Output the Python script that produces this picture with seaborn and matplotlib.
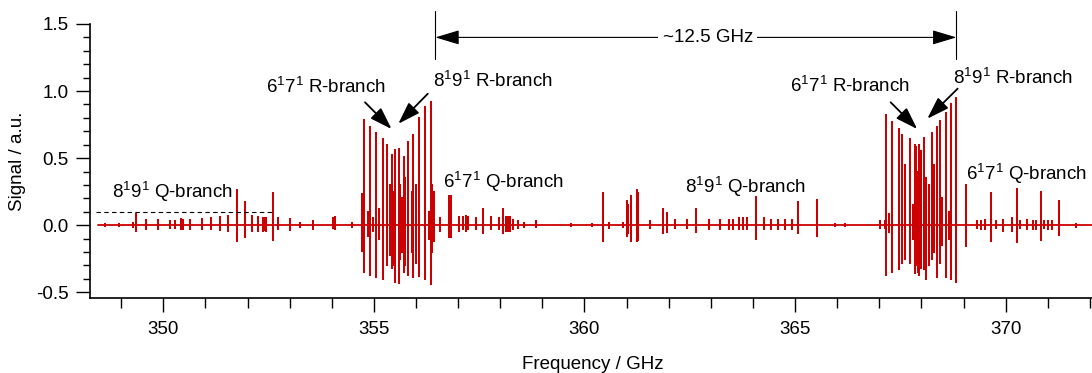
import matplotlib
matplotlib.use('Agg')
import matplotlib.pyplot as plt
import seaborn as sns
import numpy as np
import pandas as pd

# stick positions (GHz) with positive / negative extent (a.u.)
q89_left_freq = [348.62, 348.96, 349.29, 349.35, 349.59, 349.87, 350.16, 350.28, 350.41, 350.46,
                 350.63, 350.91, 351.13, 351.35, 351.54, 351.76, 351.94, 352.11, 352.25, 352.37,
                 352.41, 352.45, 352.60, 352.72, 353.01, 353.24, 353.55, 354.04, 354.08, 354.47]
q89_left_up = [0.012, 0.012, 0.02, 0.08, 0.035, 0.035, 0.03, 0.03, 0.045, 0.04,
               0.04, 0.045, 0.055, 0.06, 0.065, 0.265, 0.175, 0.065, 0.06, 0.055,
               0.05, 0.055, 0.24, 0.05, 0.045, 0.02, 0.03, 0.05, 0.06, 0.015]
q89_left_down = [-0.008, -0.008, -0.012, -0.04, -0.03, -0.025, -0.02, -0.02, -0.03, -0.03,
                 -0.03, -0.03, -0.03, -0.035, -0.04, -0.12, -0.085, -0.04, -0.04, -0.04,
                 -0.035, -0.04, -0.11, -0.03, -0.035, -0.01, -0.03, -0.02, -0.03, -0.01]

r_left_freq = [354.72, 354.76, 354.86, 354.91, 354.98, 355.05, 355.13, 355.21, 355.30, 355.38,
               355.44, 355.47, 355.50, 355.59, 355.63, 355.66, 355.71, 355.75, 355.82, 355.90,
               355.93, 356.01, 356.08, 356.21, 356.30, 356.35, 356.37]
r_left_up = [0.23, 0.785, 0.10, 0.735, 0.05, 0.69, 0.12, 0.64, 0.60, 0.30,
             0.52, 0.25, 0.56, 0.57, 0.30, 0.20, 0.51, 0.35, 0.62, 0.25,
             0.67, 0.30, 0.80, 0.88, 0.10, 0.92, 0.30]
r_left_down = [-0.19, -0.35, -0.08, -0.37, -0.04, -0.385, -0.10, -0.40, -0.30, -0.22,
               -0.32, -0.30, -0.42, -0.43, -0.25, -0.20, -0.35, -0.30, -0.37, -0.20,
               -0.39, -0.28, -0.38, -0.40, -0.10, -0.44, -0.20]

mid_freq = [356.43, 356.57, 356.79, 356.83, 357.02, 357.11, 357.18, 357.24, 357.42, 357.58,
            357.78, 357.97, 358.07, 358.13, 358.18, 358.23, 358.31, 358.43, 358.57, 358.86,
            359.69, 360.17, 360.44, 360.58, 360.92, 361.00, 361.04, 361.10, 361.24, 361.27,
            361.55, 361.87, 361.97, 362.15, 362.44, 362.64, 362.95, 363.21, 363.43, 363.53,
            363.66, 363.77, 363.87, 364.08, 364.26, 364.44, 364.60, 364.76, 364.92, 365.07,
            365.53, 365.94, 366.18, 367.01, 367.13]
mid_up = [0.25, 0.05, 0.22, 0.22, 0.06, 0.06, 0.07, 0.06, 0.05, 0.12,
          0.06, 0.05, 0.12, 0.06, 0.06, 0.06, 0.04, 0.03, 0.02, 0.03,
          0.01, 0.01, 0.24, 0.02, 0.02, 0.18, 0.15, 0.22, 0.26, 0.24,
          0.03, 0.12, 0.09, 0.04, 0.04, 0.12, 0.04, 0.04, 0.04, 0.04,
          0.05, 0.05, 0.05, 0.21, 0.05, 0.04, 0.04, 0.04, 0.04, 0.17,
          0.19, 0.01, 0.01, 0.03, 0.03]
mid_down = [-0.12, -0.04, -0.09, -0.09, -0.04, -0.03, -0.04, -0.03, -0.03, -0.06,
            -0.03, -0.03, -0.06, -0.04, -0.04, -0.04, -0.03, -0.02, -0.01, -0.01,
            -0.005, -0.005, -0.115, -0.02, -0.01, -0.08, -0.06, -0.12, -0.12, -0.11,
            -0.02, -0.06, -0.05, -0.02, -0.02, -0.05, -0.03, -0.03, -0.03, -0.03,
            -0.03, -0.03, -0.03, -0.10, -0.03, -0.03, -0.03, -0.03, -0.03, -0.06,
            -0.08, -0.005, -0.005, -0.02, -0.02]

r_right_freq = [367.17, 367.24, 367.31, 367.46, 367.53, 367.60, 367.72, 367.80, 367.84, 367.88,
                367.92, 367.94, 367.98, 368.00, 368.06, 368.10, 368.19, 368.26, 368.31, 368.37,
                368.44, 368.49, 368.58, 368.66, 368.71, 368.83]
r_right_up = [0.82, 0.08, 0.77, 0.72, 0.67, 0.45, 0.64, 0.15, 0.60, 0.58,
              0.40, 0.60, 0.55, 0.50, 0.65, 0.35, 0.30, 0.69, 0.45, 0.73,
              0.78, 0.20, 0.84, 0.10, 0.90, 0.95]
r_right_down = [-0.37, -0.05, -0.35, -0.33, -0.28, -0.25, -0.28, -0.10, -0.36, -0.30,
                -0.35, -0.37, -0.32, -0.30, -0.33, -0.40, -0.30, -0.25, -0.20, -0.39,
                -0.28, -0.15, -0.39, -0.10, -0.40, -0.42]

q67_right_freq = [369.05, 369.31, 369.41, 369.50, 369.66, 369.78, 369.94, 370.14, 370.28, 370.33,
                  370.51, 370.65, 370.71, 370.83, 370.90, 371.01, 371.11, 371.26, 371.66]
q67_right_up = [0.30, 0.03, 0.03, 0.04, 0.24, 0.03, 0.04, 0.05, 0.27, 0.03,
                0.04, 0.03, 0.03, 0.25, 0.03, 0.03, 0.03, 0.18, 0.01]
q67_right_down = [-0.155, -0.02, -0.03, -0.03, -0.12, -0.02, -0.04, -0.04, -0.125, -0.02,
                  -0.03, -0.03, -0.03, -0.11, -0.02, -0.03, -0.03, -0.07, -0.01]

baseline_range = [348.46, 372.1]
q_threshold = 0.1
q_threshold_range = [348.40, 352.61]
spacing_ends = [356.46, 368.83]

freq = q89_left_freq + r_left_freq + mid_freq + r_right_freq + q67_right_freq
up = q89_left_up + r_left_up + mid_up + r_right_up + q67_right_up
down = q89_left_down + r_left_down + mid_down + r_right_down + q67_right_down

# trace each stick as baseline -> top -> bottom -> baseline
xs = [baseline_range[0]]
ys = [0.0]
for f, u, d in sorted(zip(freq, up, down)):
    xs += [f, f, f, f]
    ys += [0.0, u, d, 0.0]
xs.append(baseline_range[1])
ys.append(0.0)
trace = pd.DataFrame({'freq': xs, 'signal': ys})

sns.set_style('ticks')
plt.rcParams['font.family'] = ['Liberation Sans', 'DejaVu Sans']
plt.rcParams['mathtext.fontset'] = 'custom'
plt.rcParams['mathtext.rm'] = 'Liberation Sans'
for k in ['text.color', 'axes.labelcolor', 'xtick.color', 'ytick.color', 'axes.edgecolor']:
    plt.rcParams[k] = 'black'
fs = 13.5

fig = plt.figure(figsize=(10.92, 3.73), dpi=100)
ax = fig.add_axes([0.0824, 0.2003, 0.9176, 0.7354])
sns.lineplot(data=trace, x='freq', y='signal', sort=False, estimator=None,
             color='#cc0000', lw=1.3, ax=ax)
ax.plot(q_threshold_range, [q_threshold, q_threshold], color='black', lw=0.8, ls=(0, (4, 3)))

ax.set_xlim(348.26, 372.05)
ax.set_ylim(-0.545, 1.5)
ax.set_xticks([350, 355, 360, 365, 370])
ax.set_xticks(np.arange(349, 373, 1), minor=True)
ax.set_yticks([-0.5, 0.0, 0.5, 1.0, 1.5])
ax.set_yticks(np.arange(-0.5, 1.51, 0.1), minor=True)
ax.set_yticklabels(['-0.5', '0.0', '0.5', '1.0', '1.5'])
ax.tick_params(axis='both', which='major', length=10, width=1, labelsize=fs, color='black')
ax.tick_params(axis='x', which='minor', length=7, width=1)
ax.tick_params(axis='y', which='minor', length=5, width=1)
ax.tick_params(axis='y', which='major', pad=5.5)
ax.tick_params(axis='x', which='major', pad=6)
for s in ['top', 'right']:
    ax.spines[s].set_visible(False)
for s in ['left', 'bottom']:
    ax.spines[s].set_linewidth(1.2)
    ax.spines[s].set_color('black')

ax.set_xlabel('Frequency / GHz', fontsize=fs)
ax.set_ylabel('Signal / a.u.', fontsize=fs)
ax.xaxis.set_label_coords(0.502, -0.212)
ax.yaxis.set_label_coords(-0.064, 0.5)

l67 = r'$\mathregular{6^17^1}$'
l89 = r'$\mathregular{8^19^1}$'
ax.text(348.78, 0.205, l89 + ' Q-branch', fontsize=fs, va='baseline')
ax.text(356.65, 0.275, l67 + ' Q-branch', fontsize=fs, va='baseline')
ax.text(362.38, 0.242, l89 + ' Q-branch', fontsize=fs, va='baseline')
ax.text(369.07, 0.335, l67 + ' Q-branch', fontsize=fs, va='baseline', clip_on=False)
ax.text(352.45, 0.984, l67 + ' R-branch', fontsize=fs, va='baseline')
ax.text(356.41, 1.028, l89 + ' R-branch', fontsize=fs, va='baseline')
ax.text(364.89, 0.99, l67 + ' R-branch', fontsize=fs, va='baseline')
ax.text(368.75, 1.055, l89 + ' R-branch', fontsize=fs, va='baseline')

arrow = dict(arrowstyle='-|>,head_length=0.9,head_width=0.3', color='black', lw=1.3,
             shrinkA=0, shrinkB=0, mutation_scale=15)
ax.annotate('', xy=(355.42, 0.717), xytext=(354.79, 0.916), arrowprops=arrow)
ax.annotate('', xy=(355.58, 0.756), xytext=(356.28, 0.98), arrowprops=arrow)
ax.annotate('', xy=(367.90, 0.717), xytext=(367.27, 0.916), arrowprops=arrow)
ax.annotate('', xy=(368.14, 0.794), xytext=(368.86, 1.018), arrowprops=arrow)

# ~12.5 GHz spacing marker
for e in spacing_ends:
    ax.plot([e, e], [1.24, 1.60], color='black', lw=0.8, clip_on=False)
ax.annotate('', xy=(spacing_ends[1], 1.40), xytext=(spacing_ends[0], 1.40),
            arrowprops=dict(arrowstyle='<|-|>,head_length=1.0,head_width=0.3', color='black',
                            lw=0.8, shrinkA=0, shrinkB=0, mutation_scale=15),
            annotation_clip=False)
ax.text(np.mean(spacing_ends) + 0.28, 1.40, '~12.5 GHz', fontsize=fs, ha='center', va='center',
        bbox=dict(facecolor='white', edgecolor='none', pad=3), clip_on=False)

fig.savefig('out.png', dpi=100)
